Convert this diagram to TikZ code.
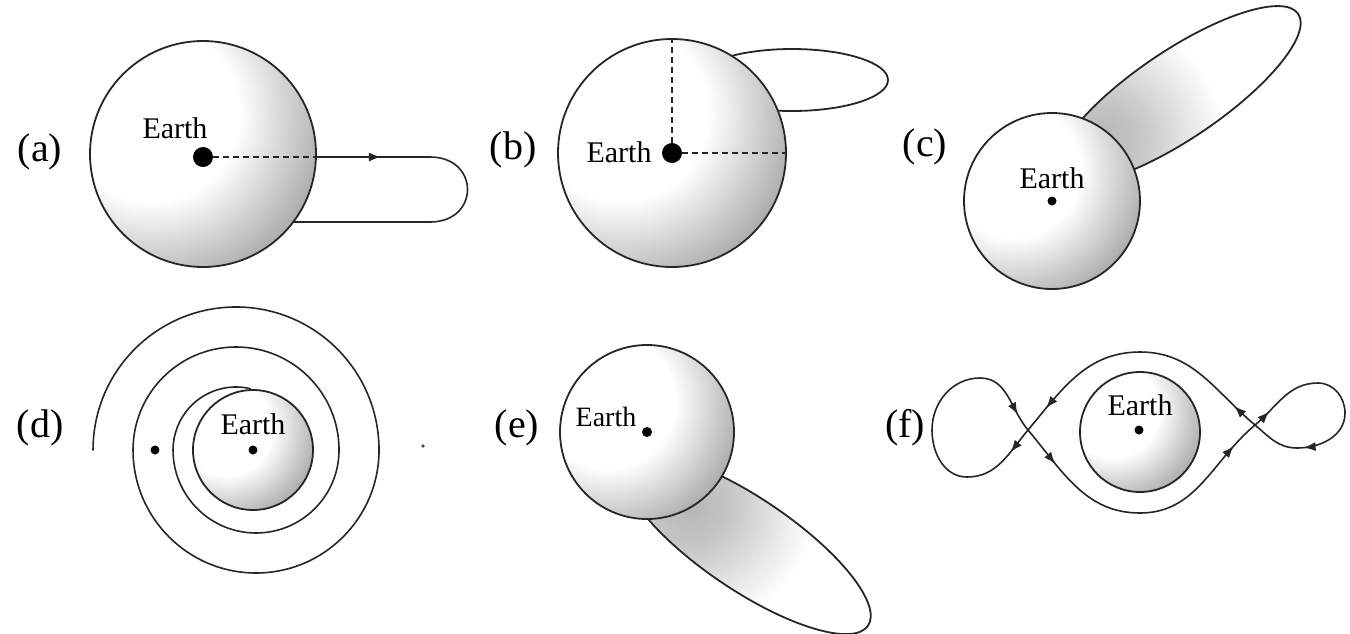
\documentclass[tikz,border=0pt]{standalone}
\usepackage{fontspec}
\setmainfont{Liberation Serif}
\usetikzlibrary{arrows.meta,decorations.markings,calc}
\pgfdeclareradialshading{earthglow}{\pgfpoint{0bp}{0bp}}{color(0bp)=(white); color(12bp)=(white); color(25bp)=(gray!68); color(50bp)=(gray!68)}
\pgfdeclareradialshading{lobeglow}{\pgfpoint{0bp}{0bp}}{color(0bp)=(gray!58); color(8bp)=(gray!45); color(25bp)=(white); color(50bp)=(white)}
\tikzset{
  outline/.style={line width=1.8pt, draw=black!85},
  orb/.style={line width=1.6pt, draw=black!85, line cap=round},
  dashline/.style={line width=1.7pt, draw=black!85, dash pattern=on 6pt off 4pt},
  lbl/.style={font=\fontsize{40}{44}\selectfont, inner sep=0pt},
  earthtxt/.style={font=\fontsize{30}{34}\selectfont, inner sep=0pt},
  bigdot/.style={fill=black},
  arr at/.style={postaction={decorate,decoration={markings,mark=at position #1 with {\arrow{Latex[length=12pt,width=9pt]}}}}}
}
\newcommand\earthball[2]{%
  \begin{scope}
    \clip (#1) circle (#2);
    \shade[shading=earthglow] ($(#1)+(-0.45*#2,0.35*#2)$) circle (1.6*#2);
  \end{scope}
  \draw[outline] (#1) circle (#2);
}
\newcommand\lobe[6]{% center, angle, xr, yr, glow centre, glow radius
  \begin{scope}
    \clip[rotate around={#2:(#1)}] (#1) ellipse [x radius=#3, y radius=#4];
    \shade[shading=lobeglow] (#5) circle (#6);
  \end{scope}
  \draw[outline, rotate around={#2:(#1)}] (#1) ellipse [x radius=#3, y radius=#4];
}
\begin{document}
\begin{tikzpicture}[x=1pt,y=1pt]
\useasboundingbox (0,0) rectangle (1350,-633);

% ---------- (a)
\coordinate (Ea) at (203,-154);
\coordinate (Da) at (203,-157);
\coordinate (Pa1) at (316,-157);
\coordinate (Pa2) at (430,-157);
\coordinate (Pa3) at (430,-222);
\coordinate (Pa4) at (293,-222);
\earthball{Ea}{113}
\draw[dashline] (Da) -- (Pa1);
\draw[orb, arr at=0.57] (Pa1) -- (Pa2);
\draw[orb] (Pa2) .. controls (480,-157) and (480,-222) .. (Pa3);
\draw[orb] (Pa3) -- (Pa4);
\fill[bigdot] (Da) circle (10);
\node[lbl] (la) at (40,-152) {(a)};
\node[earthtxt] (ta) at (175,-128) {Earth};

% ---------- (b)
\coordinate (Eb) at (672,-153);
\coordinate (Ob) at (792,-80);
\coordinate (Tb) at (672,-39);
\coordinate (Rb) at (786,-153);
\draw[outline] (Ob) ellipse [x radius=96, y radius=31];
\earthball{Eb}{114}
\draw[dashline] (Eb) -- (Tb);
\draw[dashline] (Eb) -- (Rb);
\fill[bigdot] (Eb) circle (10);
\node[lbl] (lb) at (513,-150) {(b)};
\node[earthtxt] (tb) at (619,-152) {Earth};

% ---------- (c)
\coordinate (Ec) at (1052,-201);
\coordinate (Oc) at (1178,-95);
\coordinate (Gc) at (1100,-140);
\lobe{Oc}{34}{145}{44}{Gc}{125}
\earthball{Ec}{88}
\fill (Ec) circle (4.5);
\node[lbl] (lc) at (925,-147) {(c)};
\node[earthtxt] (tc) at (1052,-178) {Earth};

% ---------- (d)
\coordinate (Ed) at (253,-450);
\coordinate (Sd) at (250.2,-388.6);
\coordinate (Dd) at (155,-450);
\coordinate (Xd) at (423,-446);
\earthball{Ed}{60}
\draw[orb] (Sd) arc[start angle=77, end angle=180, radius=63]
  arc[start angle=180, end angle=360, radius=83]
  arc[start angle=0, end angle=180, radius=103]
  arc[start angle=180, end angle=360, radius=123]
  arc[start angle=0, end angle=180, radius=143];
\fill (Ed) circle (4.5);
\fill (Dd) circle (4.5);
\fill[black!70] (Xd) circle (1.8);
\node[lbl] (ld) at (40,-428) {(d)};
\node[earthtxt] (td) at (253,-424) {Earth};

% ---------- (e)
\coordinate (Ee) at (647,-432);
\coordinate (Oe) at (747,-544);
\coordinate (Ge) at (690,-505);
\lobe{Oe}{-34}{146}{46}{Ge}{125}
\earthball{Ee}{87}
\fill (Ee) circle (5);
\node[lbl] (le) at (517,-428) {(e)};
\node[earthtxt, font=\fontsize{28}{32}\selectfont] (te) at (606,-417) {Earth};

% ---------- (f)
\coordinate (Ef) at (1140,-432);
\coordinate (Df) at (1139,-430);
\coordinate (LT) at (980,-378);
\coordinate (LL) at (932,-430);
\coordinate (LB) at (967,-477);
\coordinate (XL) at (1028,-430);
\coordinate (NB) at (1140,-513);
\coordinate (NT) at (1140,-352);
\coordinate (XR) at (1255,-425);
\coordinate (RT) at (1318,-383);
\coordinate (RR) at (1345,-413);
\coordinate (RB) at (1297,-448);
\earthball{Ef}{60}
\fill (Df) circle (4.5);
\draw[orb, arr at=0.75] (LT) to[out=0,in=130] (XL);
\draw[orb, arr at=0.3] (XL) to[out=-50,in=180] (NB);
\draw[orb, arr at=0.8] (NB) to[out=0,in=-140] (XR);
\draw[orb, arr at=0.25] (XR) to[out=40,in=180] (RT);
\draw[orb] (RT) to[out=0,in=90] (RR);
\draw[orb, arr at=0.9] (RR) to[out=-90,in=0] (RB);
\draw[orb] (RB) to[out=180,in=-40] (XR);
\draw[orb, arr at=0.2] (XR) to[out=140,in=0] (NT);
\draw[orb, arr at=0.8] (NT) to[out=180,in=50] (XL);
\draw[orb, arr at=0.35] (XL) to[out=-130,in=0] (LB);
\draw[orb] (LB) to[out=180,in=-90] (LL);
\draw[orb] (LL) to[out=90,in=180] (LT);
\node[lbl] (lf) at (905,-428) {(f)};
\node[earthtxt] (tf) at (1140,-405) {Earth};
\end{tikzpicture}
\end{document}
